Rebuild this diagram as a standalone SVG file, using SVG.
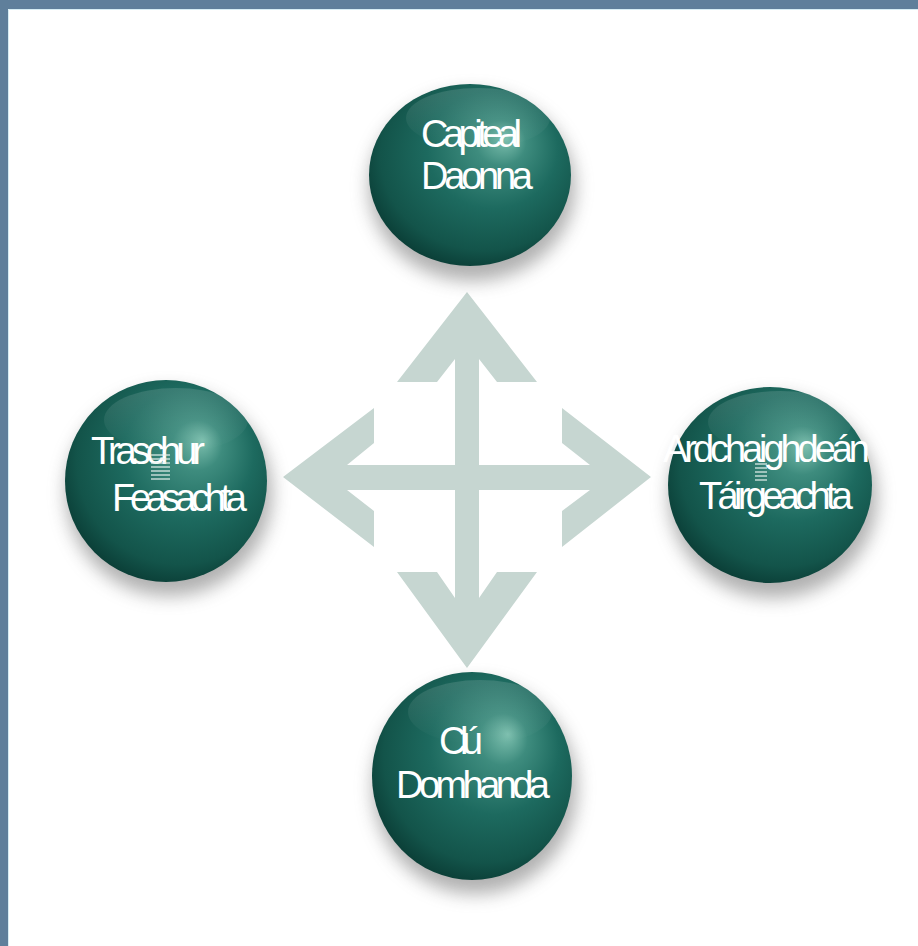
<svg xmlns="http://www.w3.org/2000/svg" width="918" height="946" viewBox="0 0 918 946">
  <style>
    .lbl { font-family: "Liberation Sans", Arial, sans-serif; font-size: 38px; fill: #ffffff; }
    .ball { fill: url(#ballGrad); }
    .gloss { fill: url(#glossGrad); }
    .shadow { fill: #6f6f6f; opacity: 0.55; filter: url(#blur); }
    .stripe { stroke: #e8f2ef; stroke-width: 1.2; }
    .arrow { fill: #c6d6d1; }
  </style>
  <defs>
    <radialGradient id="ballGrad" cx="0.55" cy="0.42" r="0.62" fx="0.68" fy="0.3">
      <stop offset="0" stop-color="#7cbfae"/>
      <stop offset="0.2" stop-color="#3e8c7e"/>
      <stop offset="0.52" stop-color="#1d6a5f"/>
      <stop offset="0.83" stop-color="#13544a"/>
      <stop offset="1" stop-color="#093a33"/>
    </radialGradient>
    <linearGradient id="glossGrad" x1="0" y1="0" x2="0" y2="1">
      <stop offset="0" stop-color="#ffffff" stop-opacity="0.13"/>
      <stop offset="1" stop-color="#ffffff" stop-opacity="0"/>
    </linearGradient>
    <filter id="blur" x="-30%" y="-30%" width="160%" height="160%">
      <feGaussianBlur stdDeviation="9"/>
    </filter>
  </defs>

  <rect x="0" y="0" width="918" height="946" fill="#ffffff"/>
  <g id="frame">
    <rect x="0" y="0" width="918" height="9" fill="#5f7f9b"/>
    <rect x="0" y="0" width="8" height="946" fill="#5f7f9b"/>
    <path d="M8.5 946 V9.5 H918" fill="none" stroke="#d6edf4" stroke-width="1"/>
  </g>

  <g id="connectors">
    <path class="arrow" d="M467 292 L537 382 L497 382 L479 359 L479 465 L590 465 L562 443 L562 408 L651 477 L562 547 L562 511 L590 490 L479 490 L479 598 L497 572 L537 572 L467 668 L397 572 L437 572 L455 598 L455 490 L347 490 L374 511 L374 547 L283 477 L374 408 L374 443 L347 465 L455 465 L455 359 L437 382 L397 382 Z"/>
  </g>

  <g id="node-top">
    <ellipse class="shadow" cx="472" cy="187" rx="103" ry="94"/>
    <ellipse class="ball" cx="470" cy="175" rx="101" ry="91"/>
    <ellipse class="gloss" cx="478" cy="118" rx="72" ry="30"/>
    <text class="lbl" x="421" y="147" textLength="101" lengthAdjust="spacing">Capiteal</text>
    <text class="lbl" x="421" y="189" textLength="112" lengthAdjust="spacing">Daonna</text>
  </g>

  <g id="node-left">
    <circle class="shadow" cx="169" cy="493" r="103"/>
    <circle class="ball" cx="166" cy="481" r="101"/>
    <ellipse class="gloss" cx="176" cy="420" rx="72" ry="32"/>
    <text class="lbl" x="91" y="464" textLength="114" lengthAdjust="spacing">Traschur</text>
    <g class="stripe">
      <line x1="151" y1="455" x2="170" y2="455"/>
      <line x1="151" y1="459" x2="170" y2="459"/>
      <line x1="151" y1="463" x2="170" y2="463"/>
      <line x1="151" y1="467" x2="170" y2="467"/>
      <line x1="151" y1="471" x2="170" y2="471"/>
      <line x1="151" y1="475" x2="170" y2="475"/>
      <line x1="151" y1="479" x2="170" y2="479"/>
    </g>
    <text class="lbl" x="112" y="511" textLength="135" lengthAdjust="spacing">Feasachta</text>
  </g>

  <g id="node-right">
    <ellipse class="shadow" cx="773" cy="497" rx="104" ry="101"/>
    <ellipse class="ball" cx="770" cy="485" rx="102" ry="98"/>
    <ellipse class="gloss" cx="780" cy="422" rx="72" ry="31"/>
    <text class="lbl" x="663" y="462" textLength="207" lengthAdjust="spacing">Ardchaighdeán</text>
    <g class="stripe">
      <line x1="755" y1="464" x2="767" y2="464"/>
      <line x1="755" y1="468" x2="767" y2="468"/>
      <line x1="755" y1="472" x2="767" y2="472"/>
      <line x1="755" y1="476" x2="767" y2="476"/>
      <line x1="755" y1="480" x2="767" y2="480"/>
    </g>
    <text class="lbl" x="699" y="509" textLength="154" lengthAdjust="spacing">Táirgeachta</text>
  </g>

  <g id="node-bottom">
    <ellipse class="shadow" cx="475" cy="788" rx="102" ry="106"/>
    <ellipse class="ball" cx="472" cy="776" rx="100" ry="104"/>
    <ellipse class="gloss" cx="480" cy="712" rx="72" ry="32"/>
    <text class="lbl" x="439" y="754" textLength="44" lengthAdjust="spacing">Clú</text>
    <text class="lbl" x="396" y="798" textLength="154" lengthAdjust="spacing">Domhanda</text>
  </g>
</svg>
